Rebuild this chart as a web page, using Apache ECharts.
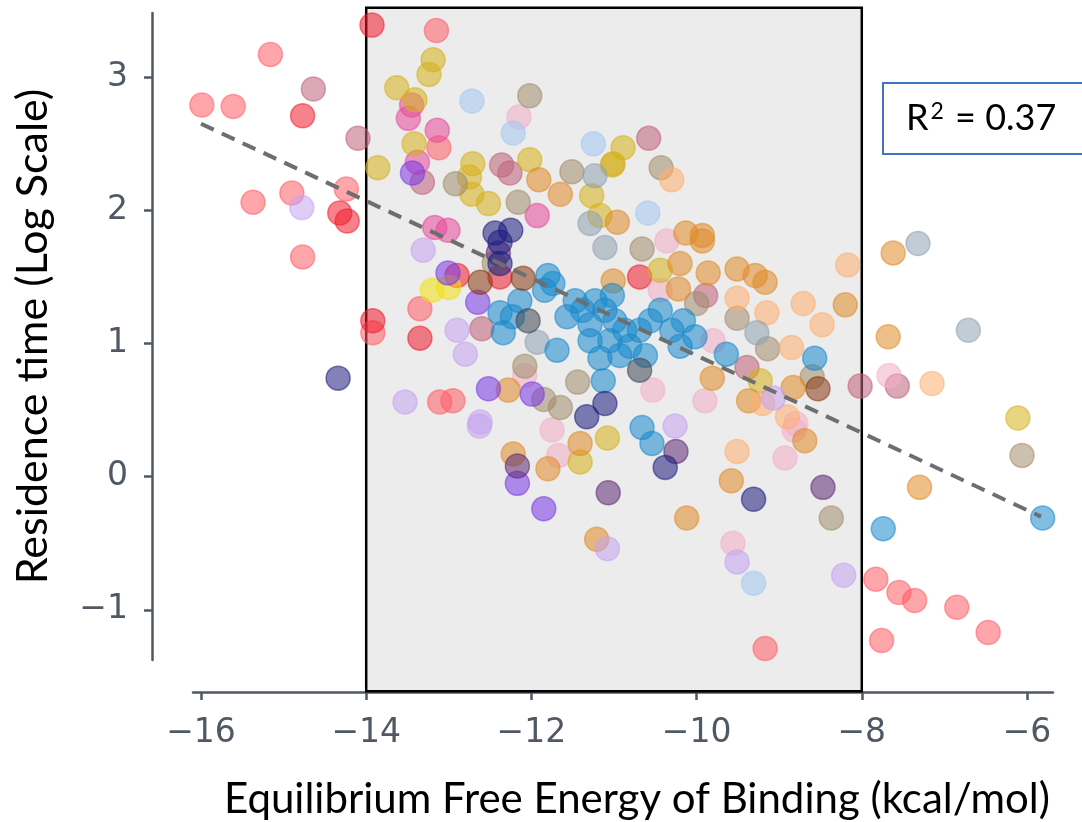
<!DOCTYPE html>
<html>
<head>
<meta charset="utf-8">
<script src="https://cdn.jsdelivr.net/npm/echarts@6/dist/echarts.min.js"></script>
<style>
  html, body { margin: 0; padding: 0; background: #fff; }
  #chart { width: 1082px; height: 822px; }
</style>
</head>
<body>
<div id="chart"></div>
<script>
// tick values
const xTicks = [-16, -14, -12, -10, -8, -6];
const yTicks = [-1, 0, 1, 2, 3];

// shaded window (kcal/mol) and its vertical extent
const shadeX = [-14, -8];
const shadeY = [-1.61, 3.52];

// dashed regression line end points
const fitX = [-16, -5.83];
const fitY = [2.65, -0.30];

// points grouped by colour  [dG, log residence time]
const salmon = [[-15.99,2.79],[-15.61,2.78],[-15.16,3.17],[-15.37,2.06],[-14.9,2.13],[-14.24,2.16],[-14.77,1.65],
  [-13.15,3.35],[-13.12,2.47],[-13.35,1.26],[-13.11,0.56],[-12.95,0.57],[-7.83,-0.77],[-7.55,-0.87],[-7.36,-0.93],
  [-6.85,-0.98],[-6.47,-1.17],[-7.76,-1.23],[-9.17,-1.29],[-13.92,1.08]];
const red = [[-14.77,2.71],[-14.32,1.98],[-14.23,1.92],[-13.92,1.17],[-13.93,3.39],[-13.35,1.04],[-12.9,1.51],
  [-12.38,1.5],[-10.69,1.5]];
const mauve = [[-14.64,2.91],[-14.1,2.54],[-10.58,2.54],[-8.02,0.68],[-7.57,0.68],[-13.32,2.21],[-12.36,2.34],
  [-12.26,2.28],[-9.89,1.36],[-9.39,0.82],[-12.6,1.11]];
const pink = [[-13.45,2.79],[-13.49,2.69],[-13.14,2.6],[-13.38,2.36],[-13.17,1.87],[-13.01,1.85],[-11.93,1.96]];
const lightPink = [[-12.15,2.7],[-7.67,0.76],[-8.93,0.14],[-8.82,0.35],[-9.56,-0.5],[-11.67,0.16],[-10.36,1.77],
  [-10.44,1.4],[-9.8,1.02],[-10.53,0.65],[-9.9,0.57],[-8.8,0.4],[-11.75,0.35],[-12.08,0.76]];
const gold = [[-13.86,2.32],[-13.19,3.13],[-13.24,3.02],[-13.63,2.92],[-13.41,2.83],[-13.42,2.5],[-12.71,2.35],
  [-12.75,2.25],[-12.02,2.38],[-11.01,2.35],[-11.27,2.11],[-10.89,2.47],[-11.02,2.34],[-6.11,0.44],[-11.41,0.11],
  [-11.08,0.29],[-9.23,0.72],[-12.72,2.12],[-12.52,2.05],[-10.44,1.55],[-11.17,1.96]];
const yellow = [[-13.2,1.4],[-13.0,1.42]];
const tan = [[-12.02,2.86],[-12.92,2.2],[-11.51,2.29],[-12.16,2.06],[-10.43,2.32],[-10.66,1.71],[-9.51,1.19],
  [-9.14,0.96],[-8.37,-0.31],[-6.06,0.16],[-12.08,0.83],[-11.44,0.71],[-11.65,0.52],[-12.45,1.6],[-8.6,0.75],
  [-11.85,0.58],[-10.0,1.3]];
const lightBlue = [[-12.72,2.82],[-12.22,2.58],[-11.25,2.5],[-10.59,1.98],[-9.31,-0.8]];
const blue = [[-5.81,-0.31],[-7.74,-0.39],[-11.8,1.51],[-11.74,1.45],[-11.84,1.4],[-12.14,1.32],[-12.38,1.23],
  [-12.23,1.2],[-12.34,1.08],[-11.69,0.95],[-11.17,0.89],[-11.13,0.72],[-10.66,0.37],[-10.54,0.25],[-11.38,1.25],
  [-11.23,1.32],[-11.11,1.25],[-10.99,1.17],[-10.87,1.1],[-11.05,1.02],[-10.81,0.98],[-10.69,1.1],[-10.56,1.17],
  [-10.44,1.25],[-10.3,1.1],[-10.16,1.17],[-10.02,1.05],[-9.64,0.92],[-8.57,0.89],[-10.93,0.91],[-10.62,0.91],
  [-11.29,1.14],[-11.47,1.32],[-11.57,1.2],[-11.02,1.36],[-10.2,0.98],[-11.29,1.02]];
const navy = [[-14.34,0.74],[-12.44,1.83],[-12.38,1.76],[-12.38,1.6],[-11.33,0.45],[-11.11,0.55],[-10.38,0.07],
  [-9.31,-0.17],[-12.25,1.85]];
const darkPurple = [[-12.17,0.08],[-11.07,-0.12],[-10.25,0.19],[-8.47,-0.08],[-12.4,1.68]];
const purple = [[-13.44,2.28],[-13.01,1.53],[-12.65,1.31],[-12.52,0.66],[-11.99,0.62],[-12.17,-0.05],[-11.85,-0.24]];
const lavender = [[-14.78,2.02],[-13.31,1.7],[-12.9,1.1],[-12.8,0.92],[-13.53,0.56],[-12.63,0.38],[-11.08,-0.54],
  [-10.26,0.38],[-9.51,-0.64],[-8.22,-0.74],[-9.07,0.59],[-12.62,0.41]];
const orange = [[-7.62,1.68],[-7.68,1.05],[-7.3,-0.08],[-12.22,0.17],[-11.8,0.06],[-11.41,0.25],[-11.21,-0.47],
  [-10.12,-0.31],[-9.58,-0.03],[-8.69,0.27],[-11.91,2.23],[-11.65,2.12],[-10.96,1.91],[-10.13,1.83],[-9.93,1.81],
  [-9.93,1.77],[-10.2,1.6],[-9.86,1.53],[-9.51,1.56],[-9.29,1.51],[-9.17,1.46],[-10.22,1.41],[-11.01,1.47],
  [-8.2,1.29],[-9.81,0.74],[-8.83,0.67],[-9.37,0.57],[-12.28,0.65]];
const lightOrange = [[-7.15,0.7],[-10.3,2.23],[-8.17,1.59],[-9.51,1.34],[-8.71,1.3],[-8.48,1.14],[-9.15,1.23],
  [-8.85,0.97],[-9.51,0.19],[-8.9,0.45],[-9.2,0.55]];
const grayBlue = [[-7.32,1.75],[-6.71,1.1],[-11.23,2.26],[-11.29,1.9],[-11.11,1.72],[-9.27,1.08],[-11.93,1.01]];
const brown = [[-12.62,1.46],[-12.1,1.49],[-8.53,0.66]];
const slate = [[-12.04,1.17],[-10.69,0.8]];

const groups = [
  [salmon, '#ff5c66'], [red, '#f01c2c'], [mauve, '#c0607a'], [pink, '#e8489a'], [lightPink, '#f4adc6'],
  [gold, '#d6b01a'], [yellow, '#f2e010'], [tan, '#a28c6c'], [lightBlue, '#a2c8f0'], [orange, '#e08a26'],
  [lightOrange, '#ffae6e'], [grayBlue, '#8ea2b2'], [lavender, '#c4a2f0'], [purple, '#7838e6'],
  [darkPurple, '#5c2a74'], [blue, '#1888cc'], [navy, '#1c1c7e'], [brown, '#883810'], [slate, '#3e4656']
];

const axisCol = '#4f5864';
const minus = v => (v < 0 ? '\u2212' + Math.abs(v) : String(v));

const series = groups.map(([pts, col]) => ({
  type: 'scatter',
  data: pts,
  symbolSize: 24,
  itemStyle: { color: col, opacity: 0.55, borderColor: col, borderWidth: 1.5 },
  z: 3
}));
series.push({
  type: 'line',
  data: fitX.map((x, i) => [x, fitY[i]]),
  symbol: 'none',
  lineStyle: { color: '#6e6e6e', width: 4, type: [14, 9] },
  z: 5
});

const chart = echarts.init(document.getElementById('chart'));
chart.setOption({
  animation: false,
  grid: { left: 193, right: 29, top: 13, bottom: 162, containLabel: false, outerBoundsMode: 'none' },
  xAxis: {
    type: 'value', min: -16.097, max: -5.685, offset: 32,
    axisLine: { onZero: false, lineStyle: { color: axisCol, width: 2.5 } },
    axisTick: { customValues: xTicks, length: 8, lineStyle: { color: axisCol, width: 2.5 } },
    axisLabel: { customValues: xTicks, formatter: minus, color: axisCol, fontFamily: 'DejaVu Sans', fontSize: 33, margin: 25 },
    splitLine: { show: false },
    name: 'Equilibrium Free Energy of Binding (kcal/mol)', nameLocation: 'middle', nameGap: 86,
    nameTextStyle: { fontFamily: 'Lato', fontSize: 42, color: '#000', padding: [0, 0, 0, 28] }
  },
  yAxis: {
    type: 'value', min: -1.376, max: 3.481, offset: 41,
    axisLine: { onZero: false, lineStyle: { color: axisCol, width: 2.5 } },
    axisTick: { customValues: yTicks, length: 8, lineStyle: { color: axisCol, width: 2.5 } },
    axisLabel: { customValues: yTicks, formatter: minus, color: axisCol, fontFamily: 'DejaVu Sans', fontSize: 33, margin: 24 },
    splitLine: { show: false },
    name: 'Residence time (Log Scale)', nameLocation: 'middle', nameGap: 97, nameRotate: 90,
    nameTextStyle: { fontFamily: 'Lato', fontSize: 43, color: '#000' }
  },
  series: series
});

// shaded window and R² box
const p0 = chart.convertToPixel({ gridIndex: 0 }, [shadeX[0], shadeY[1]]);
const p1 = chart.convertToPixel({ gridIndex: 0 }, [shadeX[1], shadeY[0]]);
chart.setOption({
  graphic: [
    {
      type: 'rect', z: 1, silent: true,
      shape: { x: p0[0], y: p0[1], width: p1[0] - p0[0], height: p1[1] - p0[1] },
      style: { fill: '#ececec', stroke: '#000', lineWidth: 2.5 }
    },
    {
      type: 'rect', z: 10, silent: true,
      shape: { x: 883, y: 83, width: 220, height: 71 },
      style: { fill: '#fff', stroke: '#4472c4', lineWidth: 2 }
    },
    {
      type: 'text', z: 11, left: 906, top: 100, silent: true,
      style: {
        text: 'R{sup|2} = 0.37',
        font: '36px Lato', fill: '#000',
        rich: { sup: { fontSize: 23, fontFamily: 'Lato', verticalAlign: 'top', padding: [0, 2, 14, 2] } }
      }
    }
  ]
});
</script>
</body>
</html>
